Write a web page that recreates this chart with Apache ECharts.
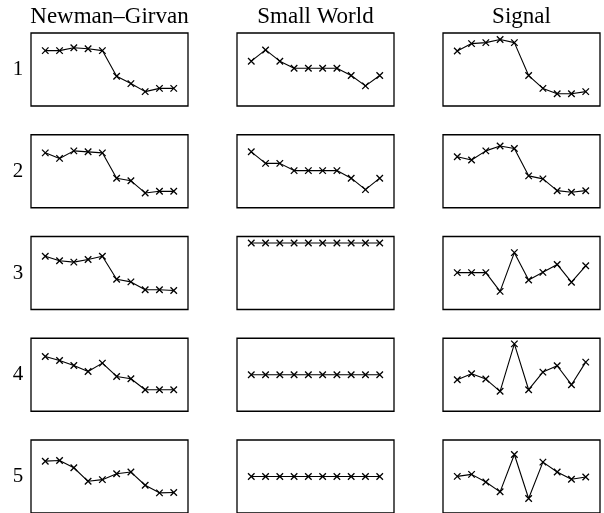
<!DOCTYPE html>
<html>
<head>
<meta charset="utf-8">
<script src="https://cdn.jsdelivr.net/npm/echarts@6/dist/echarts.min.js"></script>
<style>
html,body{margin:0;padding:0;background:#fff;}
#chart{width:604px;height:513px;}
</style>
</head>
<body>
<div id="chart"></div>
<script>
// Column titles and row labels
const columns = ['Newman–Girvan', 'Small World', 'Signal'];
const rows = ['1', '2', '3', '4', '5'];
// x positions (10 steps)
const steps = [0, 1, 2, 3, 4, 5, 6, 7, 8, 9];

// Values (relative height within each panel, 0 = bottom, 100 = top)
const ng1 = [75.9, 75.9, 79.8, 78.5, 75.9, 40.8, 30.7, 19.7, 24.1, 24.1];
const sw1 = [61.4, 76.8, 61.4, 51.8, 51.8, 51.8, 51.8, 41.7, 27.6, 41.7];
const sg1 = [75.4, 85.5, 86.8, 91.2, 86.8, 41.7, 24.1, 16.7, 16.7, 19.7];

const ng2 = [75.2, 67.6, 77.9, 76.6, 75.2, 40.5, 36.9, 20.3, 22.5, 22.5];
const sw2 = [76.6, 60.8, 60.8, 50.9, 50.9, 50.9, 50.9, 40.5, 24.8, 40.5];
const sg2 = [69.8, 65.3, 77.9, 84.7, 81.1, 43.7, 39.6, 23.4, 21.2, 23.4];

const ng3 = [73.0, 66.7, 64.9, 68.5, 73.0, 41.4, 37.8, 27.0, 27.0, 26.1];
const sw3 = [91, 91, 91, 91, 91, 91, 91, 91, 91, 91];
const sg3 = [50.5, 50.5, 50.5, 24.8, 77.9, 40.5, 50.9, 61.7, 37.4, 59.9];

const ng4 = [75.0, 69.5, 62.7, 54.5, 65.9, 47.7, 44.5, 29.5, 29.5, 29.5];
const sw4 = [50, 50, 50, 50, 50, 50, 50, 50, 50, 50];
const sg4 = [43.2, 51.4, 44.1, 27.3, 92.3, 29.5, 53.6, 62.3, 36.4, 67.3];

const ng5 = [71.0, 71.9, 62.0, 43.4, 45.7, 53.8, 56.1, 38.0, 27.6, 28.1];
const sw5 = [50, 50, 50, 50, 50, 50, 50, 50, 50, 50];
const sg5 = [50.2, 52.9, 42.5, 29.0, 80.1, 19.9, 69.7, 56.1, 46.2, 49.3];

const panelData = [
  [ng1, sw1, sg1],
  [ng2, sw2, sg2],
  [ng3, sw3, sg3],
  [ng4, sw4, sg4],
  [ng5, sw5, sg5]
];

const chart = echarts.init(document.getElementById('chart'), null, {renderer: 'canvas'});

const colLeft = [31, 237, 443];
const boxW = 157, boxH = 73;
const rowTop = r => 33 + r * 101.75;
const FONT = '"Liberation Serif", "Times New Roman", serif';

const grids = [], xAxes = [], yAxes = [], series = [], graphics = [];
let idx = 0;
panelData.forEach((row, r) => {
  row.forEach((vals, c) => {
    grids.push({
      left: colLeft[c], top: rowTop(r), width: boxW, height: boxH,
      show: true, borderColor: '#000', borderWidth: 1.3, backgroundColor: 'transparent'
    });
    xAxes.push({type: 'value', gridIndex: idx, min: -1, max: 10, show: false});
    yAxes.push({type: 'value', gridIndex: idx, min: 0, max: 100, show: false});
    series.push({
      type: 'line', xAxisIndex: idx, yAxisIndex: idx,
      data: steps.map((s, i) => [s, vals[i]]),
      symbol: 'path://M0,0L10,10M10,0L0,10',
      symbolSize: 6.5,
      showSymbol: true,
      itemStyle: {color: 'none', borderColor: '#000', borderWidth: 1.3},
      lineStyle: {color: '#000', width: 1.1},
      animation: false,
      silent: true
    });
    idx++;
  });
});

columns.forEach((t, c) => {
  graphics.push({
    type: 'text', x: colLeft[c] + boxW / 2, y: 17,
    style: {text: t, fill: '#000', font: '23px ' + FONT, textAlign: 'center', textVerticalAlign: 'middle'}
  });
});
rows.forEach((t, r) => {
  graphics.push({
    type: 'text', x: 18, y: rowTop(r) + boxH / 2,
    style: {text: t, fill: '#000', font: '21px ' + FONT, textAlign: 'center', textVerticalAlign: 'middle'}
  });
});

chart.setOption({
  animation: false,
  backgroundColor: '#fff',
  grid: grids,
  xAxis: xAxes,
  yAxis: yAxes,
  series: series,
  graphic: graphics
});
</script>
</body>
</html>
